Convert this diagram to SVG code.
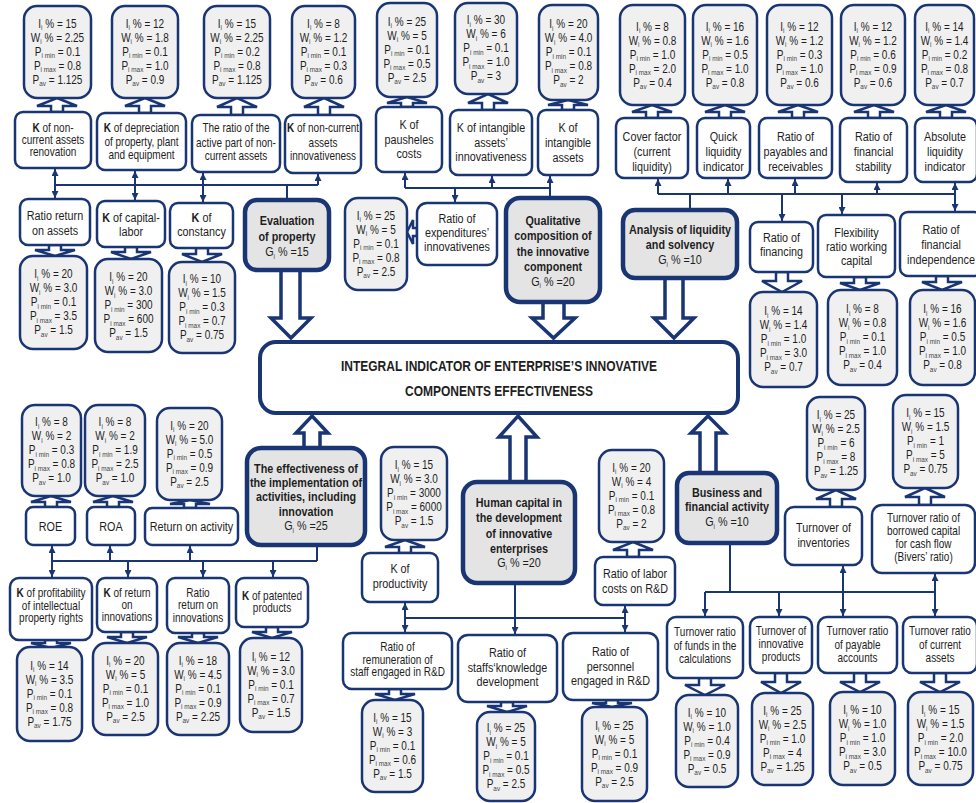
<svg xmlns="http://www.w3.org/2000/svg" width="976" height="803" viewBox="0 0 976 803">
<style>
.v rect{fill:#f0f0f0;stroke:#1a3573;stroke-width:2.5}
.l rect{fill:#fff;stroke:#1a3573;stroke-width:2.5}
.g rect{fill:#e4e4e4;stroke:#1a3573;stroke-width:4.5}
.n rect{fill:#fff;stroke:#1a3573;stroke-width:4}
text{font-family:"Liberation Sans",Arial,sans-serif;fill:#1e1e1e;text-anchor:middle}
.vt{font-size:12.5px}
.lt{font-size:13.5px}
.ls{font-size:12.5px}
.gt{font-size:13.5px;font-weight:bold}
.it{font-size:15px;font-weight:bold}
.s{font-size:8px;fill:#444}
.b{font-weight:bold}
.nb{font-weight:normal}
.conn line{stroke:#1a3573;stroke-width:2;fill:none}
.sa path{fill:#fff;stroke:#1a3573;stroke-width:2.5;stroke-linejoin:miter}
.ba path{fill:#fff;stroke:#1a3573;stroke-width:3.5;stroke-linejoin:miter}
</style>
<defs>
<marker id="a" viewBox="0 0 10 10" refX="10" refY="5" markerWidth="7" markerHeight="7" markerUnits="userSpaceOnUse" orient="auto"><path d="M0,0L10,5L0,10z" fill="#1a3573"/></marker>
</defs>

<g id="connectors" class="conn">
<line x1="55" y1="185" x2="318" y2="185"/>
<line x1="55" y1="185" x2="55" y2="169" marker-end="url(#a)"/>
<line x1="55" y1="185" x2="55" y2="198" marker-end="url(#a)"/>
<line x1="135" y1="185" x2="135" y2="171" marker-end="url(#a)"/>
<line x1="135" y1="185" x2="135" y2="200" marker-end="url(#a)"/>
<line x1="203" y1="185" x2="203" y2="173" marker-end="url(#a)"/>
<line x1="203" y1="185" x2="203" y2="202" marker-end="url(#a)"/>
<line x1="287" y1="185" x2="287" y2="200"/>
<line x1="318" y1="185" x2="318" y2="174" marker-end="url(#a)"/>

<line x1="405" y1="188" x2="550" y2="188"/>
<line x1="405" y1="188" x2="405" y2="173" marker-end="url(#a)"/>
<line x1="492" y1="188" x2="492" y2="176" marker-end="url(#a)"/>
<line x1="550" y1="188" x2="550" y2="176" marker-end="url(#a)"/>
<line x1="550" y1="188" x2="550" y2="198"/>
<line x1="455" y1="188" x2="455" y2="202" marker-end="url(#a)"/>

<line x1="658" y1="194" x2="955" y2="194"/>
<line x1="658" y1="194" x2="658" y2="179" marker-end="url(#a)"/>
<line x1="728" y1="194" x2="728" y2="179" marker-end="url(#a)"/>
<line x1="795" y1="194" x2="795" y2="179" marker-end="url(#a)"/>
<line x1="877" y1="194" x2="877" y2="183" marker-end="url(#a)"/>
<line x1="955" y1="194" x2="955" y2="183" marker-end="url(#a)"/>
<line x1="690" y1="194" x2="690" y2="210"/>
<line x1="782" y1="194" x2="782" y2="221" marker-end="url(#a)"/>
<line x1="842" y1="194" x2="842" y2="214" marker-end="url(#a)"/>
<line x1="955" y1="194" x2="955" y2="211" marker-end="url(#a)"/>

<line x1="52" y1="561" x2="317" y2="561"/>
<line x1="317" y1="545" x2="317" y2="561"/>
<line x1="52" y1="561" x2="52" y2="546" marker-end="url(#a)"/>
<line x1="52" y1="561" x2="52" y2="577" marker-end="url(#a)"/>
<line x1="110" y1="561" x2="110" y2="546" marker-end="url(#a)"/>
<line x1="128" y1="561" x2="128" y2="577" marker-end="url(#a)"/>
<line x1="190" y1="561" x2="190" y2="546" marker-end="url(#a)"/>
<line x1="203" y1="561" x2="203" y2="577" marker-end="url(#a)"/>
<line x1="273" y1="561" x2="273" y2="577" marker-end="url(#a)"/>

<line x1="405" y1="618" x2="625" y2="618"/>
<line x1="405" y1="618" x2="405" y2="603" marker-end="url(#a)"/>
<line x1="405" y1="618" x2="405" y2="632" marker-end="url(#a)"/>
<line x1="515" y1="583" x2="515" y2="634" marker-end="url(#a)"/>
<line x1="625" y1="618" x2="625" y2="606" marker-end="url(#a)"/>
<line x1="625" y1="618" x2="625" y2="632" marker-end="url(#a)"/>

<line x1="705" y1="592" x2="935" y2="592"/>
<line x1="730" y1="543" x2="730" y2="592"/>
<line x1="705" y1="592" x2="705" y2="616" marker-end="url(#a)"/>
<line x1="779" y1="592" x2="779" y2="616" marker-end="url(#a)"/>
<line x1="843" y1="592" x2="843" y2="566" marker-end="url(#a)"/>
<line x1="843" y1="592" x2="843" y2="616" marker-end="url(#a)"/>
<line x1="935" y1="592" x2="935" y2="574" marker-end="url(#a)"/>
<line x1="935" y1="592" x2="935" y2="616" marker-end="url(#a)"/>
</g>

<g id="block-arrows" class="ba">
<path d="M281,270L300,270L300,318L311,318L291,338L271,318L281,318Z"/>
<path d="M543,302L564,302L564,318L575,318L553.5,338L532,318L543,318Z"/>
<path d="M665,278L683,278L683,318L694,318L674,338L654,318L665,318Z"/>
<path d="M312,416L328,433L320,433L320,448L304,448L304,433L296,433Z"/>
<path d="M518,416L537,437L526,437L526,482L510,482L510,437L499,437Z"/>
<path d="M708,416L725,433L716,433L716,473L700,473L700,433L691,433Z"/>
</g>

<g id="small-arrows" class="sa">
<path d="M57,98L77,106L63,106L63,112L51,112L51,106L37,106Z"/>
<path d="M145,98L165,106L151,106L151,113L139,113L139,106L125,106Z"/>
<path d="M237,98L257,107L243,107L243,115L231,115L231,107L217,107Z"/>
<path d="M324,98L344,107L330,107L330,115L318,115L318,107L304,107Z"/>
<path d="M407,97L427,103L413,103L413,107L401,107L401,103L387,103Z"/>
<path d="M488,94L508,103L494,103L494,110L482,110L482,103L468,103Z"/>
<path d="M568,100L588,105L574,105L574,110L562,110L562,105L548,105Z"/>
<path d="M652,105L672,112L658,112L658,118L646,118L646,112L632,112Z"/>
<path d="M725,105L745,112L731,112L731,118L719,118L719,112L705,112Z"/>
<path d="M798,105L818,112L804,112L804,118L792,118L792,112L778,112Z"/>
<path d="M874,105L894,112L880,112L880,118L868,118L868,112L854,112Z"/>
<path d="M946,105L966,112L952,112L952,118L940,118L940,112L926,112Z"/>
<path d="M49,245L61,245L61,250L75,250L55,256L35,250L49,250Z"/>
<path d="M125,247L137,247L137,252L151,252L131,259L111,252L125,252Z"/>
<path d="M196,248L208,248L208,254L222,254L202,262L182,254L196,254Z"/>
<path d="M776,272L788,272L788,281L802,281L782,292L762,281L776,281Z"/>
<path d="M854,277L866,277L866,283L880,283L860,290L840,283L854,283Z"/>
<path d="M936,276L948,276L948,282L962,282L942,290L922,282L936,282Z"/>
<path d="M407,232L413,220L413,228L417,228L417,236L413,236L413,244Z"/>
<path d="M51,496L71,502L57,502L57,507L45,507L45,502L31,502Z"/>
<path d="M113,496L133,502L119,502L119,507L107,507L107,502L93,502Z"/>
<path d="M190,500L210,504L196,504L196,508L184,508L184,504L170,504Z"/>
<path d="M45,640L57,640L57,643L71,643L51,648L31,643L45,643Z"/>
<path d="M121,632L133,632L133,637L147,637L127,643L107,637L121,637Z"/>
<path d="M192,633L204,633L204,637L218,637L198,643L178,637L192,637Z"/>
<path d="M266,627L278,627L278,632L292,632L272,638L252,632L266,632Z"/>
<path d="M405,540L425,547L411,547L411,553L399,553L399,547L385,547Z"/>
<path d="M633,542L653,550L639,550L639,557L627,557L627,550L613,550Z"/>
<path d="M389,689L401,689L401,694L415,694L395,700L375,694L389,694Z"/>
<path d="M501,702L513,702L513,706L527,706L507,712L487,706L501,706Z"/>
<path d="M606,700L618,700L618,703L632,703L612,707L592,703L606,703Z"/>
<path d="M836,490L856,499L842,499L842,507L830,507L830,499L816,499Z"/>
<path d="M925,488L945,497L931,497L931,505L919,505L919,497L905,497Z"/>
<path d="M699,678L711,678L711,685L725,685L705,695L685,685L699,685Z"/>
<path d="M775,673L787,673L787,682L801,682L781,693L761,682L775,682Z"/>
<path d="M854,673L866,673L866,682L880,682L860,692L840,682L854,682Z"/>
<path d="M934,673L946,673L946,682L960,682L940,692L920,682L934,682Z"/>
</g>

<g id="integral" class="n"><rect x="260" y="342" width="478" height="71" rx="16"/>
<text class="it" transform="translate(499,0) scale(.8,1)"><tspan x="0" y="371">INTEGRAL INDICATOR OF ENTERPRISE’S INNOVATIVE</tspan><tspan x="0" y="396">COMPONENTS EFFECTIVENESS</tspan></text></g>

<g id="g-property" class="g"><rect x="245" y="200" width="84" height="70" rx="12"/>
<text class="gt" transform="translate(287,0) scale(.8,1)"><tspan x="0" y="225.5">Evaluation</tspan><tspan x="0" y="241">of property</tspan><tspan x="0" y="256.5" class="nb">G<tspan class="s" dy="2.5">i</tspan><tspan dy="-2.5"> % =15</tspan></tspan></text></g>
<g id="g-qualitative" class="g"><rect x="506" y="198" width="94" height="104" rx="14"/>
<text class="gt" transform="translate(553,0) scale(.8,1)"><tspan x="0" y="225.5">Qualitative</tspan><tspan x="0" y="240.5">composition of</tspan><tspan x="0" y="256.5">the innovative</tspan><tspan x="0" y="271.5">component</tspan><tspan x="0" y="285.5" class="nb">G<tspan class="s" dy="2.5">i</tspan><tspan dy="-2.5"> % =20</tspan></tspan></text></g>
<g id="g-liquidity" class="g"><rect x="623" y="210" width="114" height="68" rx="12"/>
<text class="gt" transform="translate(680,0) scale(.8,1)"><tspan x="0" y="234.5">Analysis of liquidity</tspan><tspan x="0" y="249.5">and solvency</tspan><tspan x="0" y="264.5" class="nb">G<tspan class="s" dy="2.5">i</tspan><tspan dy="-2.5"> % =10</tspan></tspan></text></g>
<g id="g-effectiveness" class="g"><rect x="247" y="448" width="118" height="97" rx="14"/>
<text class="gt" transform="translate(306,0) scale(.8,1)"><tspan x="0" y="473.5">The effectiveness of</tspan><tspan x="0" y="487.5">the implementation of</tspan><tspan x="0" y="501.5">activities, including</tspan><tspan x="0" y="516.5">innovation</tspan><tspan x="0" y="530.5" class="nb">G<tspan class="s" dy="2.5">i</tspan><tspan dy="-2.5"> % =25</tspan></tspan></text></g>
<g id="g-human" class="g"><rect x="463" y="482" width="112" height="101" rx="14"/>
<text class="gt" transform="translate(519,0) scale(.8,1)"><tspan x="0" y="507.5">Human capital in</tspan><tspan x="0" y="522.5">the development</tspan><tspan x="0" y="538.5">of innovative</tspan><tspan x="0" y="553.5">enterprises</tspan><tspan x="0" y="567.5" class="nb">G<tspan class="s" dy="2.5">i</tspan><tspan dy="-2.5"> % =20</tspan></tspan></text></g>
<g id="g-business" class="g"><rect x="677" y="473" width="100" height="70" rx="12"/>
<text class="gt" transform="translate(727,0) scale(.8,1)"><tspan x="0" y="497.5">Business and</tspan><tspan x="0" y="511.5">financial activity</tspan><tspan x="0" y="526.5" class="nb">G<tspan class="s" dy="2.5">i</tspan><tspan dy="-2.5"> % =10</tspan></tspan></text></g>

<g id="l1" class="l"><rect x="15" y="112" width="76" height="56" rx="8"/><text class="ls" transform="translate(53,0) scale(.8,1)"><tspan x="0" y="132"><tspan class="b">K</tspan> of non-</tspan><tspan x="0" y="144">current assets</tspan><tspan x="0" y="156">renovation</tspan></text></g>
<g id="l2" class="l"><rect x="97" y="113" width="89" height="57" rx="8"/><text class="ls" transform="translate(141.5,0) scale(.8,1)"><tspan x="0" y="132"><tspan class="b">K</tspan> of depreciation</tspan><tspan x="0" y="146">of property, plant</tspan><tspan x="0" y="159">and equipment</tspan></text></g>
<g id="l3" class="l"><rect x="192" y="115" width="88" height="57" rx="8"/><text class="ls" transform="translate(236,0) scale(.8,1)"><tspan x="0" y="132">The ratio of the</tspan><tspan x="0" y="147">active part of non-</tspan><tspan x="0" y="160">current assets</tspan></text></g>
<g id="l4" class="l"><rect x="285" y="115" width="76" height="58" rx="8"/><text class="ls" transform="translate(323,0) scale(.8,1)"><tspan x="0" y="132"><tspan class="b">K</tspan> of non-current</tspan><tspan x="0" y="147">assets</tspan><tspan x="0" y="160">innovativeness</tspan></text></g>
<g id="l5" class="l"><rect x="376" y="107" width="66" height="65" rx="8"/><text class="lt" transform="translate(409,0) scale(.8,1)"><tspan x="0" y="129.5">K of</tspan><tspan x="0" y="144.5">pausheles</tspan><tspan x="0" y="158.5">costs</tspan></text></g>
<g id="l6" class="l"><rect x="450" y="110" width="82" height="65" rx="8"/><text class="lt" transform="translate(491,0) scale(.8,1)"><tspan x="0" y="132.5">K of intangible</tspan><tspan x="0" y="147.5">assets’</tspan><tspan x="0" y="161.5">innovativeness</tspan></text></g>
<g id="l7" class="l"><rect x="538" y="110" width="60" height="65" rx="8"/><text class="lt" transform="translate(568,0) scale(.8,1)"><tspan x="0" y="132.5">K of</tspan><tspan x="0" y="147.5">intangible</tspan><tspan x="0" y="162.5">assets</tspan></text></g>
<g id="l8" class="l"><rect x="616" y="118" width="72" height="60" rx="8"/><text class="lt" transform="translate(652,0) scale(.8,1)"><tspan x="0" y="141.5">Cover factor</tspan><tspan x="0" y="156.5">(current</tspan><tspan x="0" y="171">liquidity)</tspan></text></g>
<g id="l9" class="l"><rect x="697" y="118" width="53" height="60" rx="8"/><text class="lt" transform="translate(723.5,0) scale(.8,1)"><tspan x="0" y="141.5">Quick</tspan><tspan x="0" y="156.5">liquidity</tspan><tspan x="0" y="171">indicator</tspan></text></g>
<g id="l10" class="l"><rect x="759" y="118" width="73" height="60" rx="8"/><text class="lt" transform="translate(795.5,0) scale(.8,1)"><tspan x="0" y="141.5">Ratio of</tspan><tspan x="0" y="156.5">payables and</tspan><tspan x="0" y="171">receivables</tspan></text></g>
<g id="l11" class="l"><rect x="840" y="118" width="67" height="64" rx="8"/><text class="lt" transform="translate(873.5,0) scale(.8,1)"><tspan x="0" y="141.5">Ratio of</tspan><tspan x="0" y="156.5">financial</tspan><tspan x="0" y="171">stability</tspan></text></g>
<g id="l12" class="l"><rect x="915" y="118" width="62" height="64" rx="8"/><text class="lt" transform="translate(945,0) scale(.8,1)"><tspan x="0" y="141.5">Absolute</tspan><tspan x="0" y="156.5">liquidity</tspan><tspan x="0" y="171">indicator</tspan></text></g>

<g id="l13" class="l"><rect x="20" y="199" width="70" height="46" rx="8"/><text class="lt" transform="translate(55,0) scale(.8,1)"><tspan x="0" y="220.5">Ratio return</tspan><tspan x="0" y="235">on assets</tspan></text></g>
<g id="l14" class="l"><rect x="97" y="201" width="68" height="46" rx="8"/><text class="lt" transform="translate(131,0) scale(.8,1)"><tspan x="0" y="222"><tspan class="b">K</tspan> of capital-</tspan><tspan x="0" y="236.5">labor</tspan></text></g>
<g id="l15" class="l"><rect x="170" y="203" width="63" height="45" rx="8"/><text class="lt" transform="translate(201.5,0) scale(.8,1)"><tspan x="0" y="222"><tspan class="b">K</tspan> of</tspan><tspan x="0" y="236.5">constancy</tspan></text></g>
<g id="l16" class="l"><rect x="417" y="203" width="80" height="62" rx="10"/><text class="lt" transform="translate(457,0) scale(.8,1)"><tspan x="0" y="223.5">Ratio of</tspan><tspan x="0" y="237.5">expenditures’</tspan><tspan x="0" y="251.5">innovativenes</tspan></text></g>
<g id="l17" class="l"><rect x="750" y="222" width="63" height="50" rx="8"/><text class="lt" transform="translate(781.5,0) scale(.8,1)"><tspan x="0" y="242.5">Ratio of</tspan><tspan x="0" y="256.5">financing</tspan></text></g>
<g id="l18" class="l"><rect x="818" y="215" width="77" height="62" rx="8"/><text class="lt" transform="translate(856.5,0) scale(.8,1)"><tspan x="0" y="237">Flexibility</tspan><tspan x="0" y="251">ratio working</tspan><tspan x="0" y="265">capital</tspan></text></g>
<g id="l19" class="l"><rect x="900" y="212" width="82" height="64" rx="8"/><text class="lt" transform="translate(941,0) scale(.8,1)"><tspan x="0" y="234.5">Ratio of</tspan><tspan x="0" y="249.5">financial</tspan><tspan x="0" y="264.5">independence</tspan></text></g>

<g id="l20" class="l"><rect x="26" y="507" width="49" height="38" rx="7"/><text class="lt" transform="translate(50.5,0) scale(.8,1)"><tspan x="0" y="531">ROE</tspan></text></g>
<g id="l21" class="l"><rect x="87" y="507" width="48" height="38" rx="7"/><text class="lt" transform="translate(111,0) scale(.8,1)"><tspan x="0" y="531">ROA</tspan></text></g>
<g id="l22" class="l"><rect x="145" y="508" width="93" height="37" rx="7"/><text class="lt" transform="translate(191.5,0) scale(.8,1)"><tspan x="0" y="531">Return on activity</tspan></text></g>
<g id="l23" class="l"><rect x="10" y="578" width="82" height="62" rx="9"/><text class="ls" transform="translate(51,0) scale(.8,1)"><tspan x="0" y="597.5"><tspan class="b">K</tspan> of profitability</tspan><tspan x="0" y="610">of intellectual</tspan><tspan x="0" y="622.5">property rights</tspan></text></g>
<g id="l24" class="l"><rect x="97" y="578" width="60" height="54" rx="8"/><text class="ls" transform="translate(127,0) scale(.8,1)"><tspan x="0" y="597"><tspan class="b">K</tspan> of return</tspan><tspan x="0" y="609">on</tspan><tspan x="0" y="621">innovations</tspan></text></g>
<g id="l25" class="l"><rect x="167" y="578" width="62" height="55" rx="8"/><text class="ls" transform="translate(198,0) scale(.8,1)"><tspan x="0" y="597">Ratio</tspan><tspan x="0" y="609.5">return on</tspan><tspan x="0" y="622">innovations</tspan></text></g>
<g id="l26" class="l"><rect x="236" y="578" width="72" height="49" rx="8"/><text class="ls" transform="translate(272,0) scale(.8,1)"><tspan x="0" y="600"><tspan class="b">K</tspan> of patented</tspan><tspan x="0" y="612.5">products</tspan></text></g>

<g id="l27" class="l"><rect x="362" y="553" width="76" height="49" rx="8"/><text class="lt" transform="translate(400,0) scale(.8,1)"><tspan x="0" y="573.5">K of</tspan><tspan x="0" y="588.5">productivity</tspan></text></g>
<g id="l28" class="l"><rect x="595" y="557" width="80" height="48" rx="8"/><text class="lt" transform="translate(635,0) scale(.8,1)"><tspan x="0" y="578">Ratio of labor</tspan><tspan x="0" y="593">costs on R&amp;D</tspan></text></g>
<g id="l29" class="l"><rect x="343" y="633" width="109" height="56" rx="9"/><text class="ls" transform="translate(397.5,0) scale(.8,1)"><tspan x="0" y="651.5">Ratio of</tspan><tspan x="0" y="664">remuneration of</tspan><tspan x="0" y="676.5">staff engaged in R&amp;D</tspan></text></g>
<g id="l30" class="l"><rect x="458" y="635" width="99" height="67" rx="10"/><text class="lt" transform="translate(507.5,0) scale(.8,1)"><tspan x="0" y="657.5">Ratio of</tspan><tspan x="0" y="672">staffs‘knowledge</tspan><tspan x="0" y="686.5">development</tspan></text></g>
<g id="l31" class="l"><rect x="563" y="633" width="95" height="67" rx="10"/><text class="lt" transform="translate(610.5,0) scale(.8,1)"><tspan x="0" y="656.5">Ratio of</tspan><tspan x="0" y="671">personnel</tspan><tspan x="0" y="685.5">engaged in R&amp;D</tspan></text></g>

<g id="l32" class="l"><rect x="785" y="507" width="77" height="58" rx="9"/><text class="lt" transform="translate(823.5,0) scale(.8,1)"><tspan x="0" y="532.5">Turnover of</tspan><tspan x="0" y="547.5">inventories</tspan></text></g>
<g id="l33" class="l"><rect x="872" y="505" width="103" height="68" rx="10"/><text class="ls" transform="translate(923.5,0) scale(.8,1)"><tspan x="0" y="522">Turnover ratio of</tspan><tspan x="0" y="535">borrowed capital</tspan><tspan x="0" y="548">for cash flow</tspan><tspan x="0" y="561">(Bivers’ ratio)</tspan></text></g>
<g id="l34" class="l"><rect x="667" y="617" width="76" height="61" rx="9"/><text class="ls" transform="translate(705,0) scale(.8,1)"><tspan x="0" y="636.5">Turnover ratio</tspan><tspan x="0" y="650">of funds in the</tspan><tspan x="0" y="663.5">calculations</tspan></text></g>
<g id="l35" class="l"><rect x="750" y="617" width="62" height="56" rx="9"/><text class="ls" transform="translate(781,0) scale(.8,1)"><tspan x="0" y="635.5">Turnover of</tspan><tspan x="0" y="648.5">innovative</tspan><tspan x="0" y="661.5">products</tspan></text></g>
<g id="l36" class="l"><rect x="818" y="617" width="79" height="56" rx="9"/><text class="ls" transform="translate(857.5,0) scale(.8,1)"><tspan x="0" y="635.5">Turnover ratio</tspan><tspan x="0" y="649">of payable</tspan><tspan x="0" y="662.5">accounts</tspan></text></g>
<g id="l37" class="l"><rect x="903" y="617" width="74" height="56" rx="9"/><text class="ls" transform="translate(940,0) scale(.8,1)"><tspan x="0" y="635.5">Turnover ratio</tspan><tspan x="0" y="649">of current</tspan><tspan x="0" y="662.5">assets</tspan></text></g>

<g id="v1" class="v"><rect x="24" y="6" width="67" height="92" rx="13"/><text class="vt" transform="translate(57.5,0) scale(.8,1)"><tspan x="0" y="28">I<tspan class="s" dy="2.5">i</tspan><tspan dy="-2.5"> % = 15</tspan></tspan><tspan x="0" y="42">W<tspan class="s" dy="2.5">i</tspan><tspan dy="-2.5"> % = 2.25</tspan></tspan><tspan x="0" y="56">P<tspan class="s" dy="2.5">i min</tspan><tspan dy="-2.5"> = 0.1</tspan></tspan><tspan x="0" y="70">P<tspan class="s" dy="2.5">i max</tspan><tspan dy="-2.5"> = 0.8</tspan></tspan><tspan x="0" y="84">P<tspan class="s" dy="2.5">av</tspan><tspan dy="-2.5"> = 1.125</tspan></tspan></text></g>
<g id="v2" class="v"><rect x="112" y="6" width="66" height="92" rx="13"/><text class="vt" transform="translate(145,0) scale(.8,1)"><tspan x="0" y="28">I<tspan class="s" dy="2.5">i</tspan><tspan dy="-2.5"> % = 12</tspan></tspan><tspan x="0" y="42">W<tspan class="s" dy="2.5">i</tspan><tspan dy="-2.5"> % = 1.8</tspan></tspan><tspan x="0" y="56">P<tspan class="s" dy="2.5">i min</tspan><tspan dy="-2.5"> = 0.1</tspan></tspan><tspan x="0" y="70">P<tspan class="s" dy="2.5">i max</tspan><tspan dy="-2.5"> = 1.0</tspan></tspan><tspan x="0" y="84">P<tspan class="s" dy="2.5">av</tspan><tspan dy="-2.5"> = 0.9</tspan></tspan></text></g>
<g id="v3" class="v"><rect x="204" y="6" width="66" height="92" rx="13"/><text class="vt" transform="translate(237,0) scale(.8,1)"><tspan x="0" y="28">I<tspan class="s" dy="2.5">i</tspan><tspan dy="-2.5"> % = 15</tspan></tspan><tspan x="0" y="42">W<tspan class="s" dy="2.5">i</tspan><tspan dy="-2.5"> % = 2.25</tspan></tspan><tspan x="0" y="56">P<tspan class="s" dy="2.5">i min</tspan><tspan dy="-2.5"> = 0.2</tspan></tspan><tspan x="0" y="70">P<tspan class="s" dy="2.5">i max</tspan><tspan dy="-2.5"> = 0.8</tspan></tspan><tspan x="0" y="84">P<tspan class="s" dy="2.5">av</tspan><tspan dy="-2.5"> = 1.125</tspan></tspan></text></g>
<g id="v4" class="v"><rect x="292" y="6" width="63" height="92" rx="13"/><text class="vt" transform="translate(323.5,0) scale(.8,1)"><tspan x="0" y="28">I<tspan class="s" dy="2.5">i</tspan><tspan dy="-2.5"> % = 8</tspan></tspan><tspan x="0" y="42">W<tspan class="s" dy="2.5">i</tspan><tspan dy="-2.5"> % = 1.2</tspan></tspan><tspan x="0" y="56">P<tspan class="s" dy="2.5">i min</tspan><tspan dy="-2.5"> = 0.1</tspan></tspan><tspan x="0" y="70">P<tspan class="s" dy="2.5">i max</tspan><tspan dy="-2.5"> = 0.3</tspan></tspan><tspan x="0" y="84">P<tspan class="s" dy="2.5">av</tspan><tspan dy="-2.5"> = 0.6</tspan></tspan></text></g>
<g id="v5" class="v"><rect x="377" y="3" width="60" height="94" rx="13"/><text class="vt" transform="translate(407,0) scale(.8,1)"><tspan x="0" y="26">I<tspan class="s" dy="2.5">i</tspan><tspan dy="-2.5"> % = 25</tspan></tspan><tspan x="0" y="40">W<tspan class="s" dy="2.5">i</tspan><tspan dy="-2.5"> % = 5</tspan></tspan><tspan x="0" y="54">P<tspan class="s" dy="2.5">i min</tspan><tspan dy="-2.5"> = 0.1</tspan></tspan><tspan x="0" y="68">P<tspan class="s" dy="2.5">i max</tspan><tspan dy="-2.5"> = 0.5</tspan></tspan><tspan x="0" y="82">P<tspan class="s" dy="2.5">av</tspan><tspan dy="-2.5"> = 2.5</tspan></tspan></text></g>
<g id="v6" class="v"><rect x="455" y="3" width="62" height="91" rx="13"/><text class="vt" transform="translate(486,0) scale(.8,1)"><tspan x="0" y="24.5">I<tspan class="s" dy="2.5">i</tspan><tspan dy="-2.5"> % = 30</tspan></tspan><tspan x="0" y="38.5">W<tspan class="s" dy="2.5">i</tspan><tspan dy="-2.5"> % = 6</tspan></tspan><tspan x="0" y="52.5">P<tspan class="s" dy="2.5">i min</tspan><tspan dy="-2.5"> = 0.1</tspan></tspan><tspan x="0" y="66.5">P<tspan class="s" dy="2.5">i max</tspan><tspan dy="-2.5"> = 1.0</tspan></tspan><tspan x="0" y="80.5">P<tspan class="s" dy="2.5">av</tspan><tspan dy="-2.5"> = 3</tspan></tspan></text></g>
<g id="v7" class="v"><rect x="539" y="5" width="59" height="95" rx="13"/><text class="vt" transform="translate(568.5,0) scale(.8,1)"><tspan x="0" y="28.5">I<tspan class="s" dy="2.5">i</tspan><tspan dy="-2.5"> % = 20</tspan></tspan><tspan x="0" y="42.5">W<tspan class="s" dy="2.5">i</tspan><tspan dy="-2.5"> % = 4.0</tspan></tspan><tspan x="0" y="56.5">P<tspan class="s" dy="2.5">i min</tspan><tspan dy="-2.5"> = 0.1</tspan></tspan><tspan x="0" y="70.5">P<tspan class="s" dy="2.5">i max</tspan><tspan dy="-2.5"> = 0.8</tspan></tspan><tspan x="0" y="84.5">P<tspan class="s" dy="2.5">av</tspan><tspan dy="-2.5"> = 2</tspan></tspan></text></g>
<g id="v8" class="v"><rect x="620" y="5" width="65" height="100" rx="13"/><text class="vt" transform="translate(652.5,0) scale(.8,1)"><tspan x="0" y="31">I<tspan class="s" dy="2.5">i</tspan><tspan dy="-2.5"> % = 8</tspan></tspan><tspan x="0" y="45">W<tspan class="s" dy="2.5">i</tspan><tspan dy="-2.5"> % = 0.8</tspan></tspan><tspan x="0" y="59">P<tspan class="s" dy="2.5">i min</tspan><tspan dy="-2.5"> = 1.0</tspan></tspan><tspan x="0" y="73">P<tspan class="s" dy="2.5">i max</tspan><tspan dy="-2.5"> = 2.0</tspan></tspan><tspan x="0" y="87">P<tspan class="s" dy="2.5">av</tspan><tspan dy="-2.5"> = 0.4</tspan></tspan></text></g>
<g id="v9" class="v"><rect x="693" y="5" width="64" height="100" rx="13"/><text class="vt" transform="translate(725,0) scale(.8,1)"><tspan x="0" y="31">I<tspan class="s" dy="2.5">i</tspan><tspan dy="-2.5"> % = 16</tspan></tspan><tspan x="0" y="45">W<tspan class="s" dy="2.5">i</tspan><tspan dy="-2.5"> % = 1.6</tspan></tspan><tspan x="0" y="59">P<tspan class="s" dy="2.5">i min</tspan><tspan dy="-2.5"> = 0.5</tspan></tspan><tspan x="0" y="73">P<tspan class="s" dy="2.5">i max</tspan><tspan dy="-2.5"> = 1.0</tspan></tspan><tspan x="0" y="87">P<tspan class="s" dy="2.5">av</tspan><tspan dy="-2.5"> = 0.8</tspan></tspan></text></g>
<g id="v10" class="v"><rect x="767" y="5" width="65" height="100" rx="13"/><text class="vt" transform="translate(799.5,0) scale(.8,1)"><tspan x="0" y="31">I<tspan class="s" dy="2.5">i</tspan><tspan dy="-2.5"> % = 12</tspan></tspan><tspan x="0" y="45">W<tspan class="s" dy="2.5">i</tspan><tspan dy="-2.5"> % = 1.2</tspan></tspan><tspan x="0" y="59">P<tspan class="s" dy="2.5">i min</tspan><tspan dy="-2.5"> = 0.3</tspan></tspan><tspan x="0" y="73">P<tspan class="s" dy="2.5">i max</tspan><tspan dy="-2.5"> = 1.0</tspan></tspan><tspan x="0" y="87">P<tspan class="s" dy="2.5">av</tspan><tspan dy="-2.5"> = 0.6</tspan></tspan></text></g>
<g id="v11" class="v"><rect x="841" y="5" width="64" height="100" rx="13"/><text class="vt" transform="translate(873,0) scale(.8,1)"><tspan x="0" y="31">I<tspan class="s" dy="2.5">i</tspan><tspan dy="-2.5"> % = 12</tspan></tspan><tspan x="0" y="45">W<tspan class="s" dy="2.5">i</tspan><tspan dy="-2.5"> % = 1.2</tspan></tspan><tspan x="0" y="59">P<tspan class="s" dy="2.5">i min</tspan><tspan dy="-2.5"> = 0.6</tspan></tspan><tspan x="0" y="73">P<tspan class="s" dy="2.5">i max</tspan><tspan dy="-2.5"> = 0.9</tspan></tspan><tspan x="0" y="87">P<tspan class="s" dy="2.5">av</tspan><tspan dy="-2.5"> = 0.6</tspan></tspan></text></g>
<g id="v12" class="v"><rect x="915" y="5" width="59" height="100" rx="13"/><text class="vt" transform="translate(944.5,0) scale(.8,1)"><tspan x="0" y="31">I<tspan class="s" dy="2.5">i</tspan><tspan dy="-2.5"> % = 14</tspan></tspan><tspan x="0" y="45">W<tspan class="s" dy="2.5">i</tspan><tspan dy="-2.5"> % = 1.4</tspan></tspan><tspan x="0" y="59">P<tspan class="s" dy="2.5">i min</tspan><tspan dy="-2.5"> = 0.2</tspan></tspan><tspan x="0" y="73">P<tspan class="s" dy="2.5">i max</tspan><tspan dy="-2.5"> = 0.8</tspan></tspan><tspan x="0" y="87">P<tspan class="s" dy="2.5">av</tspan><tspan dy="-2.5"> = 0.7</tspan></tspan></text></g>
<g id="v13" class="v"><rect x="345" y="198" width="62" height="92" rx="13"/><text class="vt" transform="translate(376,0) scale(.8,1)"><tspan x="0" y="220">I<tspan class="s" dy="2.5">i</tspan><tspan dy="-2.5"> % = 25</tspan></tspan><tspan x="0" y="234">W<tspan class="s" dy="2.5">i</tspan><tspan dy="-2.5"> % = 5</tspan></tspan><tspan x="0" y="248">P<tspan class="s" dy="2.5">i min</tspan><tspan dy="-2.5"> = 0.1</tspan></tspan><tspan x="0" y="262">P<tspan class="s" dy="2.5">i max</tspan><tspan dy="-2.5"> = 0.8</tspan></tspan><tspan x="0" y="276">P<tspan class="s" dy="2.5">av</tspan><tspan dy="-2.5"> = 2.5</tspan></tspan></text></g>
<g id="v14" class="v"><rect x="20" y="256" width="67" height="93" rx="13"/><text class="vt" transform="translate(53.5,0) scale(.8,1)"><tspan x="0" y="278.5">I<tspan class="s" dy="2.5">i</tspan><tspan dy="-2.5"> % = 20</tspan></tspan><tspan x="0" y="292.5">W<tspan class="s" dy="2.5">i</tspan><tspan dy="-2.5"> % = 3.0</tspan></tspan><tspan x="0" y="306.5">P<tspan class="s" dy="2.5">i min</tspan><tspan dy="-2.5"> = 0.1</tspan></tspan><tspan x="0" y="320.5">P<tspan class="s" dy="2.5">i max</tspan><tspan dy="-2.5"> = 3.5</tspan></tspan><tspan x="0" y="334.5">P<tspan class="s" dy="2.5">av</tspan><tspan dy="-2.5"> = 1.5</tspan></tspan></text></g>
<g id="v15" class="v"><rect x="95" y="259" width="67" height="93" rx="13"/><text class="vt" transform="translate(128.5,0) scale(.8,1)"><tspan x="0" y="281.5">I<tspan class="s" dy="2.5">i</tspan><tspan dy="-2.5"> % = 20</tspan></tspan><tspan x="0" y="295.5">W<tspan class="s" dy="2.5">i</tspan><tspan dy="-2.5"> % = 3.0</tspan></tspan><tspan x="0" y="309.5">P<tspan class="s" dy="2.5">i min</tspan><tspan dy="-2.5"> = 300</tspan></tspan><tspan x="0" y="323.5">P<tspan class="s" dy="2.5">i max</tspan><tspan dy="-2.5"> = 600</tspan></tspan><tspan x="0" y="337.5">P<tspan class="s" dy="2.5">av</tspan><tspan dy="-2.5"> = 1.5</tspan></tspan></text></g>
<g id="v16" class="v"><rect x="169" y="262" width="66" height="91" rx="13"/><text class="vt" transform="translate(202,0) scale(.8,1)"><tspan x="0" y="283.5">I<tspan class="s" dy="2.5">i</tspan><tspan dy="-2.5"> % = 10</tspan></tspan><tspan x="0" y="297.5">W<tspan class="s" dy="2.5">i</tspan><tspan dy="-2.5"> % = 1.5</tspan></tspan><tspan x="0" y="311.5">P<tspan class="s" dy="2.5">i min</tspan><tspan dy="-2.5"> = 0.3</tspan></tspan><tspan x="0" y="325.5">P<tspan class="s" dy="2.5">i max</tspan><tspan dy="-2.5"> = 0.7</tspan></tspan><tspan x="0" y="339.5">P<tspan class="s" dy="2.5">av</tspan><tspan dy="-2.5"> = 0.75</tspan></tspan></text></g>
<g id="v17" class="v"><rect x="750" y="292" width="67" height="95" rx="13"/><text class="vt" transform="translate(783.5,0) scale(.8,1)"><tspan x="0" y="315.5">I<tspan class="s" dy="2.5">i</tspan><tspan dy="-2.5"> % = 14</tspan></tspan><tspan x="0" y="329.5">W<tspan class="s" dy="2.5">i</tspan><tspan dy="-2.5"> % = 1.4</tspan></tspan><tspan x="0" y="343.5">P<tspan class="s" dy="2.5">i min</tspan><tspan dy="-2.5"> = 1.0</tspan></tspan><tspan x="0" y="357.5">P<tspan class="s" dy="2.5">i max</tspan><tspan dy="-2.5"> = 3.0</tspan></tspan><tspan x="0" y="371.5">P<tspan class="s" dy="2.5">av</tspan><tspan dy="-2.5"> = 0.7</tspan></tspan></text></g>
<g id="v18" class="v"><rect x="828" y="290" width="69" height="95" rx="13"/><text class="vt" transform="translate(862.5,0) scale(.8,1)"><tspan x="0" y="313.5">I<tspan class="s" dy="2.5">i</tspan><tspan dy="-2.5"> % = 8</tspan></tspan><tspan x="0" y="327.5">W<tspan class="s" dy="2.5">i</tspan><tspan dy="-2.5"> % = 0.8</tspan></tspan><tspan x="0" y="341.5">P<tspan class="s" dy="2.5">i min</tspan><tspan dy="-2.5"> = 0.1</tspan></tspan><tspan x="0" y="355.5">P<tspan class="s" dy="2.5">i max</tspan><tspan dy="-2.5"> = 1.0</tspan></tspan><tspan x="0" y="369.5">P<tspan class="s" dy="2.5">av</tspan><tspan dy="-2.5"> = 0.4</tspan></tspan></text></g>
<g id="v19" class="v"><rect x="910" y="290" width="65" height="95" rx="13"/><text class="vt" transform="translate(942.5,0) scale(.8,1)"><tspan x="0" y="313.5">I<tspan class="s" dy="2.5">i</tspan><tspan dy="-2.5"> % = 16</tspan></tspan><tspan x="0" y="327.5">W<tspan class="s" dy="2.5">i</tspan><tspan dy="-2.5"> % = 1.6</tspan></tspan><tspan x="0" y="341.5">P<tspan class="s" dy="2.5">i min</tspan><tspan dy="-2.5"> = 0.5</tspan></tspan><tspan x="0" y="355.5">P<tspan class="s" dy="2.5">i max</tspan><tspan dy="-2.5"> = 1.0</tspan></tspan><tspan x="0" y="369.5">P<tspan class="s" dy="2.5">av</tspan><tspan dy="-2.5"> = 0.8</tspan></tspan></text></g>
<g id="v20" class="v"><rect x="22" y="405" width="59" height="91" rx="13"/><text class="vt" transform="translate(51.5,0) scale(.8,1)"><tspan x="0" y="426.5">I<tspan class="s" dy="2.5">i</tspan><tspan dy="-2.5"> % = 8</tspan></tspan><tspan x="0" y="440.5">W<tspan class="s" dy="2.5">i</tspan><tspan dy="-2.5"> % = 2</tspan></tspan><tspan x="0" y="454.5">P<tspan class="s" dy="2.5">i min</tspan><tspan dy="-2.5"> = 0.3</tspan></tspan><tspan x="0" y="468.5">P<tspan class="s" dy="2.5">i max</tspan><tspan dy="-2.5"> = 0.8</tspan></tspan><tspan x="0" y="482.5">P<tspan class="s" dy="2.5">av</tspan><tspan dy="-2.5"> = 1.0</tspan></tspan></text></g>
<g id="v21" class="v"><rect x="85" y="405" width="60" height="91" rx="13"/><text class="vt" transform="translate(115,0) scale(.8,1)"><tspan x="0" y="426.5">I<tspan class="s" dy="2.5">i</tspan><tspan dy="-2.5"> % = 8</tspan></tspan><tspan x="0" y="440.5">W<tspan class="s" dy="2.5">i</tspan><tspan dy="-2.5"> % = 2</tspan></tspan><tspan x="0" y="454.5">P<tspan class="s" dy="2.5">i min</tspan><tspan dy="-2.5"> = 1.9</tspan></tspan><tspan x="0" y="468.5">P<tspan class="s" dy="2.5">i max</tspan><tspan dy="-2.5"> = 2.5</tspan></tspan><tspan x="0" y="482.5">P<tspan class="s" dy="2.5">av</tspan><tspan dy="-2.5"> = 1.0</tspan></tspan></text></g>
<g id="v22" class="v"><rect x="157" y="408" width="65" height="92" rx="13"/><text class="vt" transform="translate(189.5,0) scale(.8,1)"><tspan x="0" y="430">I<tspan class="s" dy="2.5">i</tspan><tspan dy="-2.5"> % = 20</tspan></tspan><tspan x="0" y="444">W<tspan class="s" dy="2.5">i</tspan><tspan dy="-2.5"> % = 5.0</tspan></tspan><tspan x="0" y="458">P<tspan class="s" dy="2.5">i min</tspan><tspan dy="-2.5"> = 0.5</tspan></tspan><tspan x="0" y="472">P<tspan class="s" dy="2.5">i max</tspan><tspan dy="-2.5"> = 0.9</tspan></tspan><tspan x="0" y="486">P<tspan class="s" dy="2.5">av</tspan><tspan dy="-2.5"> = 2.5</tspan></tspan></text></g>
<g id="v23" class="v"><rect x="17" y="647" width="65" height="94" rx="13"/><text class="vt" transform="translate(49.5,0) scale(.8,1)"><tspan x="0" y="670">I<tspan class="s" dy="2.5">i</tspan><tspan dy="-2.5"> % = 14</tspan></tspan><tspan x="0" y="684">W<tspan class="s" dy="2.5">i</tspan><tspan dy="-2.5"> % = 3.5</tspan></tspan><tspan x="0" y="698">P<tspan class="s" dy="2.5">i min</tspan><tspan dy="-2.5"> = 0.1</tspan></tspan><tspan x="0" y="712">P<tspan class="s" dy="2.5">i max</tspan><tspan dy="-2.5"> = 0.8</tspan></tspan><tspan x="0" y="726">P<tspan class="s" dy="2.5">av</tspan><tspan dy="-2.5"> = 1.75</tspan></tspan></text></g>
<g id="v24" class="v"><rect x="93" y="643" width="65" height="92" rx="13"/><text class="vt" transform="translate(125.5,0) scale(.8,1)"><tspan x="0" y="665">I<tspan class="s" dy="2.5">i</tspan><tspan dy="-2.5"> % = 20</tspan></tspan><tspan x="0" y="679">W<tspan class="s" dy="2.5">i</tspan><tspan dy="-2.5"> % = 5</tspan></tspan><tspan x="0" y="693">P<tspan class="s" dy="2.5">i min</tspan><tspan dy="-2.5"> = 0.1</tspan></tspan><tspan x="0" y="707">P<tspan class="s" dy="2.5">i max</tspan><tspan dy="-2.5"> = 1.0</tspan></tspan><tspan x="0" y="721">P<tspan class="s" dy="2.5">av</tspan><tspan dy="-2.5"> = 2.5</tspan></tspan></text></g>
<g id="v25" class="v"><rect x="167" y="643" width="62" height="92" rx="13"/><text class="vt" transform="translate(198,0) scale(.8,1)"><tspan x="0" y="665">I<tspan class="s" dy="2.5">i</tspan><tspan dy="-2.5"> % = 18</tspan></tspan><tspan x="0" y="679">W<tspan class="s" dy="2.5">i</tspan><tspan dy="-2.5"> % = 4.5</tspan></tspan><tspan x="0" y="693">P<tspan class="s" dy="2.5">i min</tspan><tspan dy="-2.5"> = 0.1</tspan></tspan><tspan x="0" y="707">P<tspan class="s" dy="2.5">i max</tspan><tspan dy="-2.5"> = 0.9</tspan></tspan><tspan x="0" y="721">P<tspan class="s" dy="2.5">av</tspan><tspan dy="-2.5"> = 2.25</tspan></tspan></text></g>
<g id="v26" class="v"><rect x="240" y="638" width="62" height="94" rx="13"/><text class="vt" transform="translate(271,0) scale(.8,1)"><tspan x="0" y="661">I<tspan class="s" dy="2.5">i</tspan><tspan dy="-2.5"> % = 12</tspan></tspan><tspan x="0" y="675">W<tspan class="s" dy="2.5">i</tspan><tspan dy="-2.5"> % = 3.0</tspan></tspan><tspan x="0" y="689">P<tspan class="s" dy="2.5">i min</tspan><tspan dy="-2.5"> = 0.1</tspan></tspan><tspan x="0" y="703">P<tspan class="s" dy="2.5">i max</tspan><tspan dy="-2.5"> = 0.7</tspan></tspan><tspan x="0" y="717">P<tspan class="s" dy="2.5">av</tspan><tspan dy="-2.5"> = 1.5</tspan></tspan></text></g>
<g id="v27" class="v"><rect x="381" y="447" width="66" height="93" rx="13"/><text class="vt" transform="translate(414,0) scale(.8,1)"><tspan x="0" y="469.5">I<tspan class="s" dy="2.5">i</tspan><tspan dy="-2.5"> % = 15</tspan></tspan><tspan x="0" y="483.5">W<tspan class="s" dy="2.5">i</tspan><tspan dy="-2.5"> % = 3.0</tspan></tspan><tspan x="0" y="497.5">P<tspan class="s" dy="2.5">i min</tspan><tspan dy="-2.5"> = 3000</tspan></tspan><tspan x="0" y="511.5">P<tspan class="s" dy="2.5">i max</tspan><tspan dy="-2.5"> = 6000</tspan></tspan><tspan x="0" y="525.5">P<tspan class="s" dy="2.5">av</tspan><tspan dy="-2.5"> = 1.5</tspan></tspan></text></g>
<g id="v28" class="v"><rect x="599" y="450" width="65" height="92" rx="13"/><text class="vt" transform="translate(631.5,0) scale(.8,1)"><tspan x="0" y="472">I<tspan class="s" dy="2.5">i</tspan><tspan dy="-2.5"> % = 20</tspan></tspan><tspan x="0" y="486">W<tspan class="s" dy="2.5">i</tspan><tspan dy="-2.5"> % = 4</tspan></tspan><tspan x="0" y="500">P<tspan class="s" dy="2.5">i min</tspan><tspan dy="-2.5"> = 0.1</tspan></tspan><tspan x="0" y="514">P<tspan class="s" dy="2.5">i max</tspan><tspan dy="-2.5"> = 0.8</tspan></tspan><tspan x="0" y="528">P<tspan class="s" dy="2.5">av</tspan><tspan dy="-2.5"> = 2</tspan></tspan></text></g>
<g id="v29" class="v"><rect x="362" y="700" width="61" height="92" rx="13"/><text class="vt" transform="translate(392.5,0) scale(.8,1)"><tspan x="0" y="722">I<tspan class="s" dy="2.5">i</tspan><tspan dy="-2.5"> % = 15</tspan></tspan><tspan x="0" y="736">W<tspan class="s" dy="2.5">i</tspan><tspan dy="-2.5"> % = 3</tspan></tspan><tspan x="0" y="750">P<tspan class="s" dy="2.5">i min</tspan><tspan dy="-2.5"> = 0.1</tspan></tspan><tspan x="0" y="764">P<tspan class="s" dy="2.5">i max</tspan><tspan dy="-2.5"> = 0.6</tspan></tspan><tspan x="0" y="778">P<tspan class="s" dy="2.5">av</tspan><tspan dy="-2.5"> = 1.5</tspan></tspan></text></g>
<g id="v30" class="v"><rect x="477" y="712" width="58" height="89" rx="13"/><text class="vt" transform="translate(506,0) scale(.8,1)"><tspan x="0" y="732.5">I<tspan class="s" dy="2.5">i</tspan><tspan dy="-2.5"> % = 25</tspan></tspan><tspan x="0" y="746.5">W<tspan class="s" dy="2.5">i</tspan><tspan dy="-2.5"> % = 5</tspan></tspan><tspan x="0" y="760.5">P<tspan class="s" dy="2.5">i min</tspan><tspan dy="-2.5"> = 0.1</tspan></tspan><tspan x="0" y="774.5">P<tspan class="s" dy="2.5">i max</tspan><tspan dy="-2.5"> = 0.5</tspan></tspan><tspan x="0" y="788.5">P<tspan class="s" dy="2.5">av</tspan><tspan dy="-2.5"> = 2.5</tspan></tspan></text></g>
<g id="v31" class="v"><rect x="582" y="707" width="65" height="94" rx="13"/><text class="vt" transform="translate(614.5,0) scale(.8,1)"><tspan x="0" y="730">I<tspan class="s" dy="2.5">i</tspan><tspan dy="-2.5"> % = 25</tspan></tspan><tspan x="0" y="744">W<tspan class="s" dy="2.5">i</tspan><tspan dy="-2.5"> % = 5</tspan></tspan><tspan x="0" y="758">P<tspan class="s" dy="2.5">i min</tspan><tspan dy="-2.5"> = 0.1</tspan></tspan><tspan x="0" y="772">P<tspan class="s" dy="2.5">i max</tspan><tspan dy="-2.5"> = 0.9</tspan></tspan><tspan x="0" y="786">P<tspan class="s" dy="2.5">av</tspan><tspan dy="-2.5"> = 2.5</tspan></tspan></text></g>
<g id="v32" class="v"><rect x="807" y="397" width="58" height="93" rx="13"/><text class="vt" transform="translate(836,0) scale(.8,1)"><tspan x="0" y="419.5">I<tspan class="s" dy="2.5">i</tspan><tspan dy="-2.5"> % = 25</tspan></tspan><tspan x="0" y="433.5">W<tspan class="s" dy="2.5">i</tspan><tspan dy="-2.5"> % = 2.5</tspan></tspan><tspan x="0" y="447.5">P<tspan class="s" dy="2.5">i min</tspan><tspan dy="-2.5"> = 6</tspan></tspan><tspan x="0" y="461.5">P<tspan class="s" dy="2.5">i max</tspan><tspan dy="-2.5"> = 8</tspan></tspan><tspan x="0" y="475.5">P<tspan class="s" dy="2.5">av</tspan><tspan dy="-2.5"> = 1.25</tspan></tspan></text></g>
<g id="v33" class="v"><rect x="893" y="395" width="65" height="93" rx="13"/><text class="vt" transform="translate(925.5,0) scale(.8,1)"><tspan x="0" y="417.5">I<tspan class="s" dy="2.5">i</tspan><tspan dy="-2.5"> % = 15</tspan></tspan><tspan x="0" y="431.5">W<tspan class="s" dy="2.5">i</tspan><tspan dy="-2.5"> % = 1.5</tspan></tspan><tspan x="0" y="445.5">P<tspan class="s" dy="2.5">i min</tspan><tspan dy="-2.5"> = 1</tspan></tspan><tspan x="0" y="459.5">P<tspan class="s" dy="2.5">i max</tspan><tspan dy="-2.5"> = 5</tspan></tspan><tspan x="0" y="473.5">P<tspan class="s" dy="2.5">av</tspan><tspan dy="-2.5"> = 0.75</tspan></tspan></text></g>
<g id="v34" class="v"><rect x="676" y="695" width="62" height="92" rx="13"/><text class="vt" transform="translate(707,0) scale(.8,1)"><tspan x="0" y="717">I<tspan class="s" dy="2.5">i</tspan><tspan dy="-2.5"> % = 10</tspan></tspan><tspan x="0" y="731">W<tspan class="s" dy="2.5">i</tspan><tspan dy="-2.5"> % = 1.0</tspan></tspan><tspan x="0" y="745">P<tspan class="s" dy="2.5">i min</tspan><tspan dy="-2.5"> = 0.4</tspan></tspan><tspan x="0" y="759">P<tspan class="s" dy="2.5">i max</tspan><tspan dy="-2.5"> = 0.9</tspan></tspan><tspan x="0" y="773">P<tspan class="s" dy="2.5">av</tspan><tspan dy="-2.5"> = 0.5</tspan></tspan></text></g>
<g id="v35" class="v"><rect x="752" y="693" width="61" height="92" rx="13"/><text class="vt" transform="translate(782.5,0) scale(.8,1)"><tspan x="0" y="715">I<tspan class="s" dy="2.5">i</tspan><tspan dy="-2.5"> % = 25</tspan></tspan><tspan x="0" y="729">W<tspan class="s" dy="2.5">i</tspan><tspan dy="-2.5"> % = 2.5</tspan></tspan><tspan x="0" y="743">P<tspan class="s" dy="2.5">i min</tspan><tspan dy="-2.5"> = 1.0</tspan></tspan><tspan x="0" y="757">P<tspan class="s" dy="2.5">i max</tspan><tspan dy="-2.5"> = 4</tspan></tspan><tspan x="0" y="771">P<tspan class="s" dy="2.5">av</tspan><tspan dy="-2.5"> = 1.25</tspan></tspan></text></g>
<g id="v36" class="v"><rect x="830" y="692" width="65" height="93" rx="13"/><text class="vt" transform="translate(862.5,0) scale(.8,1)"><tspan x="0" y="714.5">I<tspan class="s" dy="2.5">i</tspan><tspan dy="-2.5"> % = 10</tspan></tspan><tspan x="0" y="728.5">W<tspan class="s" dy="2.5">i</tspan><tspan dy="-2.5"> % = 1.0</tspan></tspan><tspan x="0" y="742.5">P<tspan class="s" dy="2.5">i min</tspan><tspan dy="-2.5"> = 1.0</tspan></tspan><tspan x="0" y="756.5">P<tspan class="s" dy="2.5">i max</tspan><tspan dy="-2.5"> = 3.0</tspan></tspan><tspan x="0" y="770.5">P<tspan class="s" dy="2.5">av</tspan><tspan dy="-2.5"> = 0.5</tspan></tspan></text></g>
<g id="v37" class="v"><rect x="908" y="692" width="65" height="93" rx="13"/><text class="vt" transform="translate(940.5,0) scale(.8,1)"><tspan x="0" y="714.5">I<tspan class="s" dy="2.5">i</tspan><tspan dy="-2.5"> % = 15</tspan></tspan><tspan x="0" y="728.5">W<tspan class="s" dy="2.5">i</tspan><tspan dy="-2.5"> % = 1.5</tspan></tspan><tspan x="0" y="742.5">P<tspan class="s" dy="2.5">i min</tspan><tspan dy="-2.5"> = 2.0</tspan></tspan><tspan x="0" y="756.5">P<tspan class="s" dy="2.5">i max</tspan><tspan dy="-2.5"> = 10.0</tspan></tspan><tspan x="0" y="770.5">P<tspan class="s" dy="2.5">av</tspan><tspan dy="-2.5"> = 0.75</tspan></tspan></text></g>
</svg>
